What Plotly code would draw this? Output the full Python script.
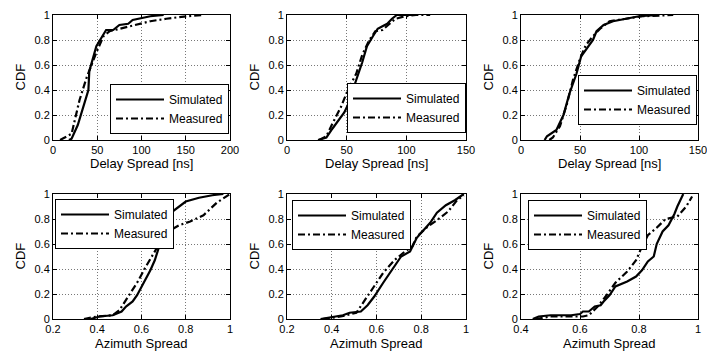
import plotly.graph_objects as go

# ---- data ----
ds1_sim_x = [18, 21, 28, 40, 41, 49, 60, 68, 75, 85, 90, 110, 125]
ds1_sim_y = [0, 0.01, 0.12, 0.40, 0.55, 0.75, 0.88, 0.88, 0.92, 0.93, 0.96, 0.99, 1.0]
ds1_mea_x = [8, 21, 30, 38, 49, 57, 64, 75, 91, 110, 128, 151, 170]
ds1_mea_y = [0, 0.05, 0.32, 0.50, 0.70, 0.83, 0.87, 0.89, 0.92, 0.95, 0.97, 0.99, 1.0]

ds2_sim_x = [26, 33, 38, 44, 48, 51, 54, 58, 63, 67, 72, 76, 80, 84, 88, 92, 105]
ds2_sim_y = [0, 0.02, 0.09, 0.17, 0.22, 0.28, 0.37, 0.48, 0.62, 0.75, 0.83, 0.89, 0.91, 0.93, 0.97, 1.0, 1.0]
ds2_mea_x = [27, 33, 38, 45, 51, 58, 63, 69, 74, 80, 86, 91, 99, 108, 120]
ds2_mea_y = [0, 0.03, 0.13, 0.26, 0.40, 0.53, 0.68, 0.80, 0.87, 0.88, 0.93, 0.97, 0.99, 1.0, 1.0]

ds3_sim_x = [20, 22, 30, 36, 41, 47, 51, 55, 61, 64, 70, 78, 89, 100, 117]
ds3_sim_y = [0, 0.03, 0.08, 0.20, 0.37, 0.53, 0.67, 0.72, 0.80, 0.87, 0.92, 0.95, 0.97, 0.99, 1.0]
ds3_mea_x = [24, 27, 33, 39, 44, 50, 55, 61, 67, 75, 89, 103, 129]
ds3_mea_y = [0, 0.02, 0.11, 0.29, 0.48, 0.65, 0.76, 0.83, 0.89, 0.95, 0.97, 0.99, 1.0]

as1_sim_x = [0.37, 0.41, 0.47, 0.51, 0.53, 0.56, 0.58, 0.61, 0.64, 0.66, 0.68, 0.70, 0.71, 0.74, 0.77, 0.80, 0.86, 0.92, 0.97]
as1_sim_y = [0, 0.02, 0.03, 0.06, 0.10, 0.14, 0.19, 0.29, 0.39, 0.47, 0.58, 0.66, 0.77, 0.86, 0.90, 0.94, 0.97, 0.99, 1.0]
as1_mea_x = [0.34, 0.40, 0.47, 0.50, 0.54, 0.58, 0.62, 0.66, 0.69, 0.73, 0.77, 0.82, 0.88, 0.94, 1.0]
as1_mea_y = [0, 0.02, 0.03, 0.07, 0.18, 0.29, 0.42, 0.54, 0.63, 0.71, 0.75, 0.78, 0.83, 0.93, 1.0]

as2_sim_x = [0.35, 0.39, 0.45, 0.48, 0.53, 0.56, 0.59, 0.63, 0.68, 0.71, 0.75, 0.78, 0.81, 0.84, 0.87, 0.91, 0.95, 0.99]
as2_sim_y = [0, 0.01, 0.03, 0.05, 0.06, 0.11, 0.18, 0.29, 0.42, 0.50, 0.54, 0.65, 0.71, 0.77, 0.85, 0.91, 0.95, 1.0]
as2_mea_x = [0.36, 0.44, 0.51, 0.54, 0.59, 0.63, 0.68, 0.72, 0.76, 0.78, 0.83, 0.87, 0.92, 0.96, 0.99]
as2_mea_y = [0, 0.02, 0.05, 0.13, 0.26, 0.37, 0.47, 0.53, 0.58, 0.66, 0.74, 0.79, 0.86, 0.95, 0.99]

as3_sim_x = [0.44, 0.46, 0.50, 0.57, 0.60, 0.61, 0.63, 0.65, 0.67, 0.68, 0.70, 0.72, 0.76, 0.79, 0.81, 0.83, 0.85, 0.86, 0.88, 0.90, 0.92, 0.93, 0.95]
as3_sim_y = [0, 0.02, 0.03, 0.03, 0.04, 0.06, 0.06, 0.10, 0.11, 0.14, 0.19, 0.26, 0.30, 0.34, 0.39, 0.46, 0.50, 0.60, 0.70, 0.75, 0.84, 0.90, 1.0]
as3_mea_x = [0.45, 0.50, 0.57, 0.61, 0.63, 0.66, 0.69, 0.72, 0.76, 0.79, 0.81, 0.83, 0.86, 0.89, 0.93, 0.96, 0.98]
as3_mea_y = [0, 0.02, 0.02, 0.02, 0.03, 0.10, 0.19, 0.29, 0.38, 0.47, 0.58, 0.67, 0.73, 0.80, 0.82, 0.90, 0.98]

series_names = ["Simulated", "Measured"]
x_titles = ["Delay Spread [ns]"] * 3 + ["Azimuth Spread"] * 3
y_title = "CDF"
x_ranges = [[0, 200], [0, 150], [0, 150], [0.2, 1], [0.2, 1], [0.4, 1]]
x_dticks = [50, 50, 50, 0.2, 0.2, 0.2]

panels = [
    (ds1_sim_x, ds1_sim_y, ds1_mea_x, ds1_mea_y),
    (ds2_sim_x, ds2_sim_y, ds2_mea_x, ds2_mea_y),
    (ds3_sim_x, ds3_sim_y, ds3_mea_x, ds3_mea_y),
    (as1_sim_x, as1_sim_y, as1_mea_x, as1_mea_y),
    (as2_sim_x, as2_sim_y, as2_mea_x, as2_mea_y),
    (as3_sim_x, as3_sim_y, as3_mea_x, as3_mea_y),
]

W, H = 707, 352
# axes boxes in pixels (left, right, top, bottom)
boxes = [
    (53, 230, 15, 140), (287, 466, 15, 140), (521, 698, 15, 140),
    (53, 230, 194, 319), (287, 466, 194, 319), (521, 698, 194, 319),
]
# legend anchor positions in pixels
legend_pos = [
    (229, 134, "right", "bottom"), (466, 133, "right", "bottom"), (697, 125, "right", "bottom"),
    (55, 199, "left", "top"), (292, 200, "left", "top"), (528, 200, "left", "top"),
]

font_family = "Liberation Sans, Arial, sans-serif"
fig = go.Figure()
layout = dict(
    width=W, height=H, margin=dict(l=0, r=0, t=0, b=0, autoexpand=False),
    paper_bgcolor="white", plot_bgcolor="white",
    font=dict(family=font_family, size=11, color="black"),
    showlegend=True,
)
annotations = []

for i, (sx, sy, mx, my) in enumerate(panels):
    n = i + 1
    xa = "x" if n == 1 else f"x{n}"
    ya = "y" if n == 1 else f"y{n}"
    lg = "legend" if n == 1 else f"legend{n}"
    fig.add_trace(go.Scatter(x=sx, y=sy, mode="lines", name=series_names[0],
                             line=dict(color="black", width=2.2), xaxis=xa, yaxis=ya,
                             legend=lg))
    fig.add_trace(go.Scatter(x=mx, y=my, mode="lines", name=series_names[1],
                             line=dict(color="black", width=2.2, dash="7px,3px,2px,3px"),
                             xaxis=xa, yaxis=ya, legend=lg))
    l, r, t, b = boxes[i]
    axcommon = dict(showline=True, linecolor="black", linewidth=1, mirror="ticks",
                    ticks="inside", ticklen=4, tickcolor="black",
                    showgrid=True, gridcolor="#777777", griddash="1px,2px", gridwidth=1,
                    zeroline=False, tickfont=dict(size=11), automargin=False,
                    ticklabeloverflow="allow")
    xkey = "xaxis" if n == 1 else f"xaxis{n}"
    ykey = "yaxis" if n == 1 else f"yaxis{n}"
    layout[xkey] = dict(axcommon, domain=[l / W, r / W], anchor=ya,
                        range=x_ranges[i], dtick=x_dticks[i], tick0=0)
    layout[ykey] = dict(axcommon, domain=[1 - b / H, 1 - t / H], anchor=xa,
                        range=[0, 1], dtick=0.2)
    # axis titles as annotations
    annotations.append(dict(text=x_titles[i], xref="paper", yref="paper",
                            x=(l + r) / 2 / W, y=1 - (b + 24) / H,
                            xanchor="center", yanchor="middle", showarrow=False,
                            font=dict(size=13)))
    annotations.append(dict(text=y_title, xref="paper", yref="paper",
                            x=(l - 33) / W, y=1 - (t + b) / 2 / H, textangle=-90,
                            xanchor="center", yanchor="middle", showarrow=False,
                            font=dict(size=13)))
    px, py, xanc, yanc = legend_pos[i]
    layout[lg] = dict(x=px / W, y=1 - py / H,
                      xanchor=xanc, yanchor=yanc, bgcolor="white",
                      bordercolor="black", borderwidth=1,
                      font=dict(size=12), tracegroupgap=0,
                      itemwidth=48)

layout["annotations"] = annotations
fig.update_layout(**layout)
fig.write_html("out.html", config={"displayModeBar": False, "staticPlot": True},
               post_script="document.body.style.margin='0';document.body.style.overflow='hidden';")
